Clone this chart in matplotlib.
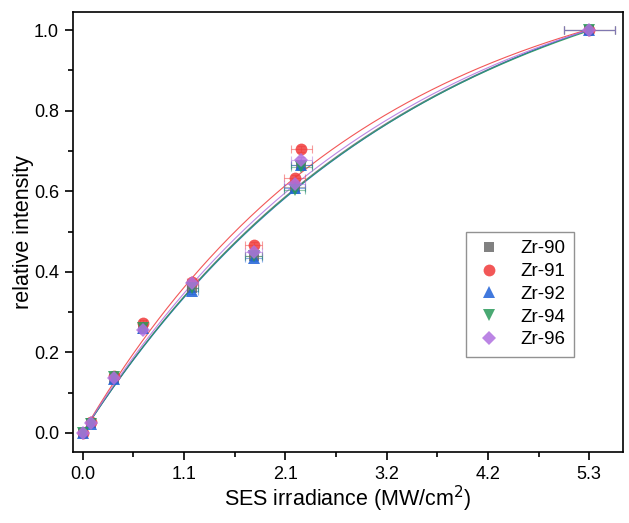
import numpy as np
import matplotlib
matplotlib.use("Agg")
import matplotlib.pyplot as plt
from matplotlib.ticker import MultipleLocator, FormatStrFormatter, AutoMinorLocator

# 数据
irradiance = [0.0, 0.09, 0.33, 0.63, 1.15, 1.79, 2.22, 2.29, 5.3]
labels = ["Zr-90", "Zr-91", "Zr-92", "Zr-94", "Zr-96"]
zr90 = [0.0, 0.025, 0.135, 0.258, 0.360, 0.440, 0.610, 0.665, 1.0]
zr91 = [0.0, 0.027, 0.142, 0.272, 0.375, 0.467, 0.633, 0.705, 1.0]
zr92 = [0.0, 0.022, 0.133, 0.260, 0.352, 0.435, 0.607, 0.665, 1.0]
zr94 = [0.0, 0.023, 0.140, 0.260, 0.360, 0.440, 0.603, 0.660, 1.0]
zr96 = [0.0, 0.025, 0.137, 0.256, 0.372, 0.450, 0.618, 0.677, 1.0]
series = [zr90, zr91, zr92, zr94, zr96]

colors = ["#6b6b6b", "#f03a3a", "#1f62d8", "#2a9a5a", "#b070e0"]
markers = ["s", "o", "^", "v", "D"]
sizes = [7.5, 8.5, 8.5, 8.5, 7]

plt.rcParams['font.family'] = ['Liberation Sans', 'DejaVu Sans']

fig = plt.figure(figsize=(6.29, 5.23), dpi=100)
ax = fig.add_axes([0.116, 0.136, 0.874, 0.841])

x = np.array(irradiance)
xfit = np.linspace(0, 5.3, 300)
for ys, c, m, ms, lab in zip(series, colors, markers, sizes, labels):
    y = np.array(ys)
    # 拟合 y = A(1-exp(-x/s))
    best = None
    for s in np.linspace(1.0, 8.0, 701):
        f = 1 - np.exp(-x / s)
        A = np.sum(y * f) / np.sum(f * f)
        r = np.sum((y - A * f) ** 2)
        if best is None or r < best[0]:
            best = (r, A, s)
    _, A, s = best
    ax.plot(xfit, A * (1 - np.exp(-xfit / s)), color=c, lw=0.8, alpha=0.85, zorder=2)
    ax.errorbar(x, y, xerr=0.05 * x, yerr=0.008, fmt="none", ecolor=c,
                elinewidth=0.8, capsize=3, capthick=0.8, alpha=0.5, zorder=3)
    ax.plot(x, y, linestyle="none", marker=m, ms=ms, color=c, alpha=0.85,
            markeredgewidth=0, label=lab, zorder=4)

ax.set_xlim(-0.1, 5.65)
ax.set_ylim(-0.047, 1.045)
ax.set_xticks(np.linspace(0, 5.3, 6))
ax.xaxis.set_major_formatter(FormatStrFormatter("%.1f"))
ax.xaxis.set_minor_locator(AutoMinorLocator(2))
ax.yaxis.set_major_locator(MultipleLocator(0.2))
ax.yaxis.set_major_formatter(FormatStrFormatter("%.1f"))
ax.yaxis.set_minor_locator(MultipleLocator(0.1))
ax.tick_params(which="both", direction="out", labelsize=13, width=1.2)
ax.tick_params(which="major", length=6, pad=4)
ax.tick_params(which="minor", length=3.5)
for sp in ax.spines.values():
    sp.set_linewidth(1.2)

ax.set_xlabel("SES irradiance (MW/cm$^2$)", fontsize=15.5, labelpad=1)
ax.set_ylabel("relative intensity", fontsize=15.5, labelpad=0)

leg = ax.legend(loc="center left", bbox_to_anchor=(0.697, 0.358), fontsize=13.5,
                frameon=True, fancybox=False, handletextpad=0.9, borderpad=0.45,
                labelspacing=0.3, handlelength=1.6)
leg.get_frame().set_edgecolor("#777777")
leg.get_frame().set_linewidth(1.0)

plt.savefig("out.png", dpi=100)
plt.close()
